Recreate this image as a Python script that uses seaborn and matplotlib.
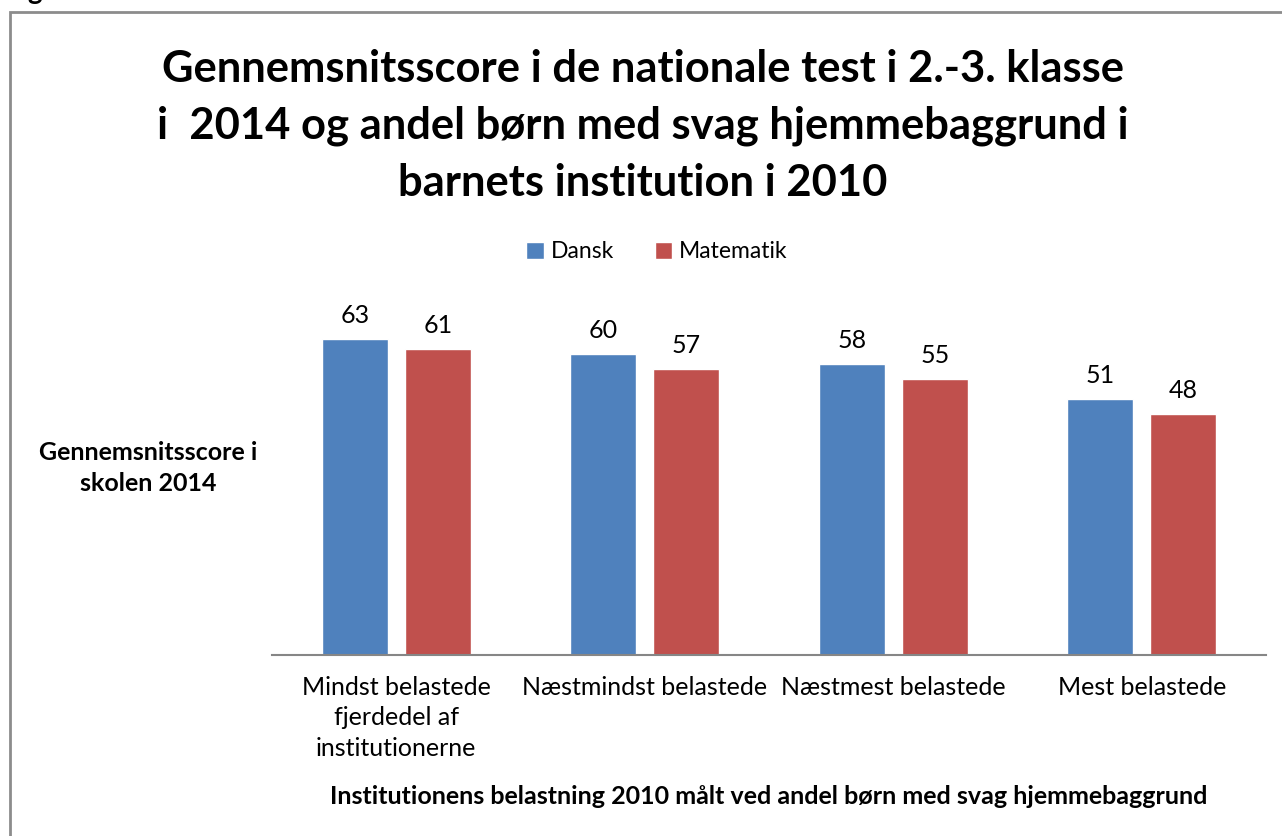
import pandas as pd
import matplotlib.pyplot as plt
import seaborn as sns
from matplotlib.patches import Rectangle

# data
categories = ["Mindst belastede\nfjerdedel af\ninstitutionerne", "Næstmindst belastede",
              "Næstmest belastede", "Mest belastede"]
series_names = ["Dansk", "Matematik"]
dansk = [63, 60, 58, 51]
matematik = [61, 57, 55, 48]

title = ("Gennemsnitsscore i de nationale test i 2.-3. klasse\n"
         "i  2014 og andel børn med svag hjemmebaggrund i\n"
         "barnets institution i 2010")
ylabel = "Gennemsnitsscore i\nskolen 2014"
xlabel = "Institutionens belastning 2010 målt ved andel børn med svag hjemmebaggrund"

df = pd.DataFrame({
    "kategori": categories * 2,
    "fag": [series_names[0]] * 4 + [series_names[1]] * 4,
    "score": dansk + matematik,
})

sns.set_style("white")
plt.rcParams["font.family"] = ["Lato", "DejaVu Sans"]
plt.rcParams["text.color"] = "black"
plt.rcParams["xtick.color"] = "black"

W, H = 1282, 836
fig = plt.figure(figsize=(W / 100, H / 100), dpi=100)
ax = fig.add_axes([272 / W, (H - 655) / H, (1266 - 272) / W, 351 / H])

sns.barplot(data=df, x="kategori", y="score", hue="fag", order=categories,
            hue_order=series_names, palette=["#4F81BD", "#C0504D"],
            width=0.668, gap=0.2, saturation=1, ax=ax)

ax.set_xlim(-0.5, 3.5)
ax.set_ylim(0, 70)
for c in ax.containers:
    ax.bar_label(c, padding=9, fontsize=18, color="black")

sns.despine(ax=ax, left=True)
ax.spines["bottom"].set_color("#868686")
ax.spines["bottom"].set_linewidth(1.5)
ax.set_yticks([])
ax.tick_params(axis="x", length=0, pad=15, labelsize=18, labelcolor="black")
for lab in ax.get_xticklabels():
    lab.set_linespacing(1.4)
ax.set_xlabel("")
ax.set_ylabel("")

# axis titles
fig.text(148 / W, 1 - 468 / H, ylabel, ha="center", va="center", fontsize=18,
         fontweight="bold", linespacing=1.45)
fig.text(769 / W, 1 - 797 / H, xlabel, ha="center", va="center", fontsize=18,
         fontweight="bold")

# chart title
fig.text(643 / W, 1 - 126 / H, title, ha="center", va="center", fontsize=31.3,
         fontweight="bold", linespacing=1.5)

# legend at top
ax.legend(loc="center", bbox_to_anchor=(657 / W, 1 - 252 / H),
          bbox_transform=fig.transFigure, ncol=2, frameon=False, fontsize=16.5,
          handlelength=0.75, handleheight=0.75, handletextpad=0.3, columnspacing=1.8)

# frame of the chart area and the clipped letter above it
fig.add_artist(Rectangle((10 / W, -0.1), 1.2, 1 - 12 / H + 0.1, transform=fig.transFigure,
                         fill=False, edgecolor="#8c8c8c", linewidth=2))
fig.text(27 / W, 1 + 9 / H, "g", fontsize=20, fontweight="bold", va="center")

fig.savefig("out.png", dpi=100)
